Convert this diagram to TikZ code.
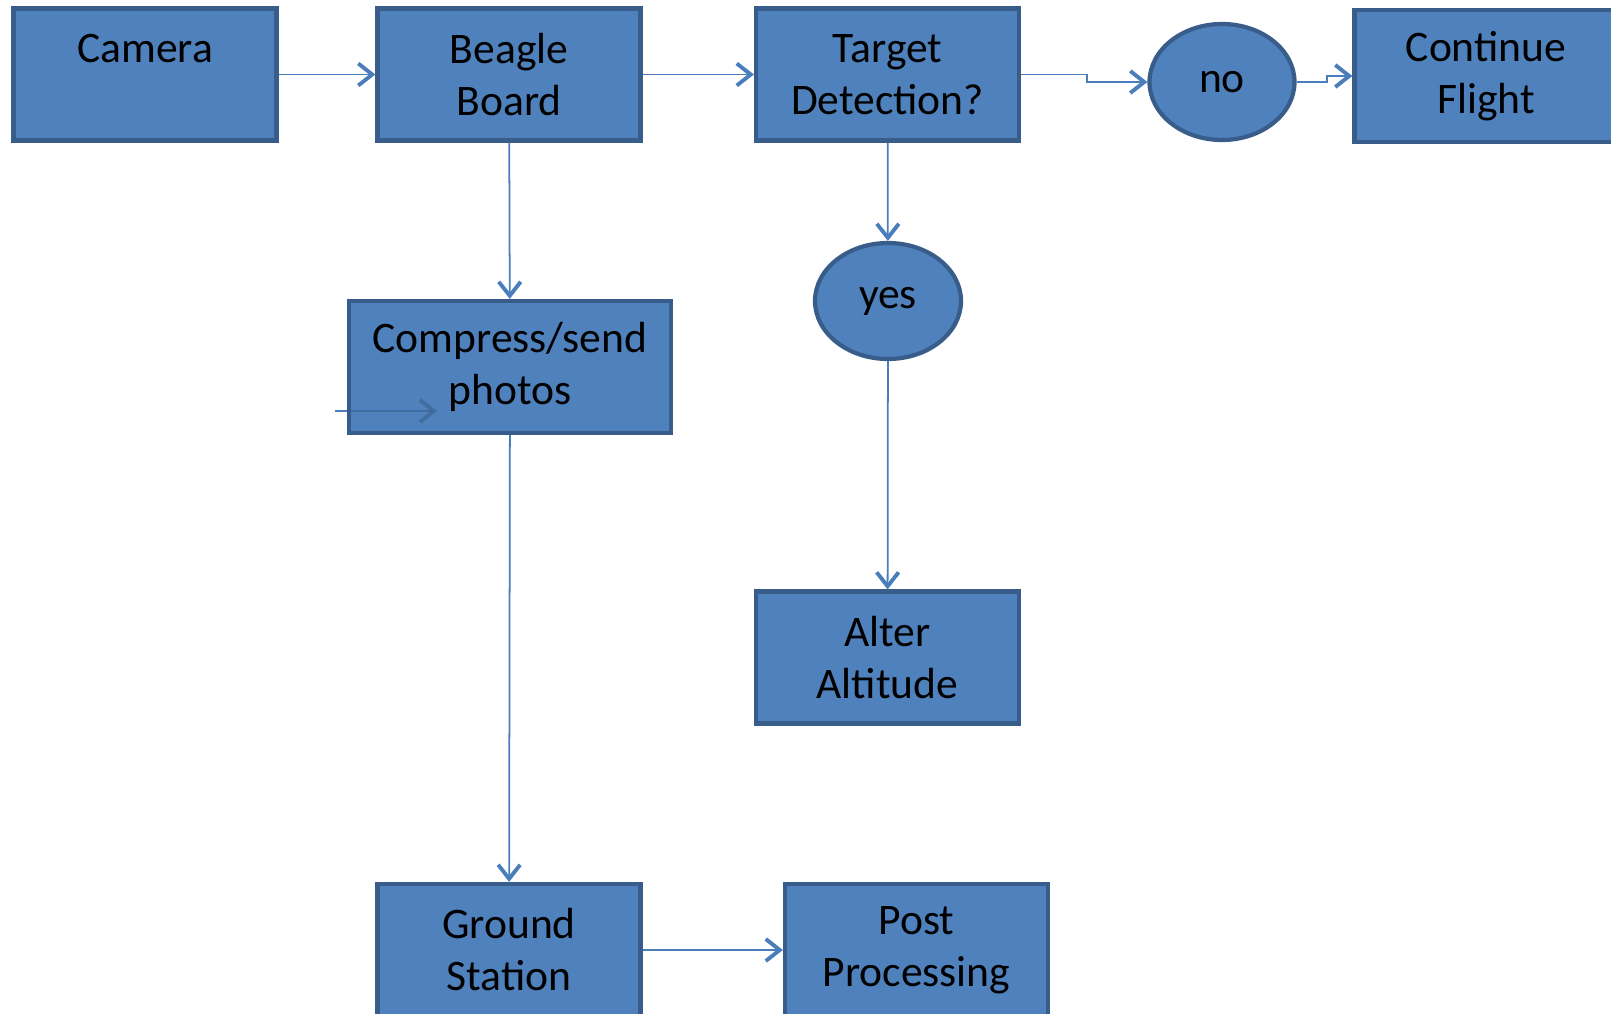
\documentclass[tikz,border=0pt]{standalone}
\usepackage{fontspec}
\setmainfont{Carlito}
\usetikzlibrary{shapes.geometric, arrows.meta}

\definecolor{boxfill}{HTML}{4F81BD}
\definecolor{boxline}{HTML}{385D8A}
\definecolor{flowline}{HTML}{4A7EBB}

\begin{document}
\begin{tikzpicture}[
	stage/.style={draw=boxline, fill=boxfill, line width=1.2pt, minimum width=2.63cm, minimum height=1.32cm, align=center, inner sep=0pt, font=\fontsize{12.4}{14.8}\selectfont},
	choice/.style={ellipse, draw=boxline, fill=boxfill, line width=1.2pt, minimum width=1.45cm, minimum height=1.16cm, inner sep=0pt, font=\fontsize{12.4}{14.8}\selectfont},
	flow/.style={draw=flowline, line width=0.5pt, -{Straight Barb[length=1.4mm, width=2.2mm, line width=1.1pt]}}
	]
	\useasboundingbox (0,0) rectangle (16.11,-10.13);

	\node [stage] (camera) at (1.45,-0.745) {Camera\\\mbox{}};
	\node [stage] (beagle) at (5.09,-0.745) {Beagle\\Board};
	\node [stage] (target) at (8.875,-0.745) {Target\\Detection?};
	\node [choice] (no) at (12.22,-0.82) {no};
	\node [stage] (flight) at (14.86,-0.76) {Continue\\Flight};

	\node [stage, minimum width=3.22cm] (compress) at (5.10,-3.67) {Compress/send\\photos};
	\node [choice, minimum width=1.46cm] (yes) at (8.88,-3.01) {yes};
	\node [stage] (alter) at (8.875,-6.575) {Alter\\Altitude};

	\node [stage] (ground) at (5.09,-9.50) {Ground\\Station};
	\node [stage] (post) at (9.165,-9.50) {Post\\Processing};

	\draw [flow] (camera) -- (beagle);
	\draw [flow] (beagle) -- (target);
	\draw [flow] (target.east) -- ++(0.66,0) |- (no.west);
	\draw [flow] (no.east) -- ++(0.30,0) |- (flight.west);

	\draw [flow] (beagle) -- (compress);
	\draw [flow] (compress) -- (ground);
	\draw [flow] (ground) -- (post);

	\draw [flow] (target) -- (yes);
	\draw [flow] (yes) -- (alter);

	% loose arrow left over in the compress box
	\coordinate (stray) at (3.35,-4.11);
	\coordinate (strayend) at (4.37,-4.11);
	\draw [flow, draw=boxline, draw opacity=0.55] (stray) -- (strayend);
	\draw [draw=flowline, line width=0.5pt] (stray) -- (stray -| compress.west);

\end{tikzpicture}
\end{document}
